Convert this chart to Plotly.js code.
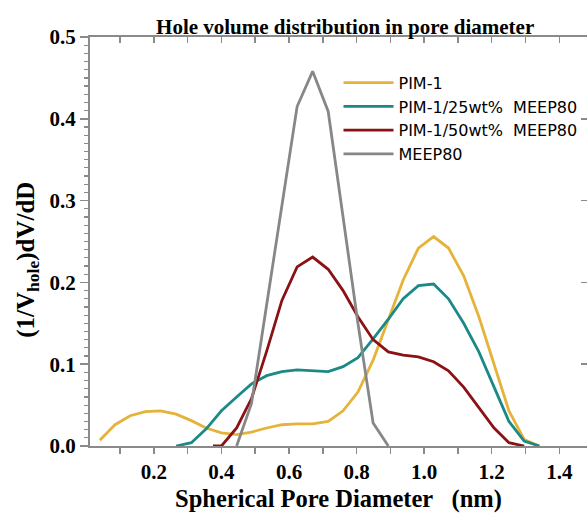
<!DOCTYPE html>
<html>
<head>
<meta charset="utf-8">
<script src="https://cdn.plot.ly/plotly-3.0.1.min.js"></script>
<style>html,body{margin:0;padding:0;background:#fff;overflow:hidden;}</style>
</head>
<body>
<div id="chart" style="width:587px;height:513px;"></div>
<script>
// Series names
const seriesNames = ["PIM-1", "PIM-1/25wt%&nbsp; MEEP80", "PIM-1/50wt%&nbsp; MEEP80", "MEEP80"];

// PIM-1
const pimX = [0.04,0.085,0.13,0.175,0.22,0.266,0.311,0.355,0.40,0.445,0.489,0.534,0.579,0.624,0.670,0.716,0.760,0.804,0.849,0.894,0.938,0.983,1.028,1.072,1.117,1.162,1.207,1.251,1.296,1.341];
const pimY = [0.007,0.026,0.037,0.042,0.043,0.039,0.031,0.022,0.016,0.014,0.017,0.022,0.026,0.027,0.027,0.030,0.043,0.066,0.105,0.155,0.203,0.242,0.256,0.242,0.208,0.158,0.100,0.043,0.008,0.0];

// PIM-1/25wt% MEEP80
const p25X = [0.266,0.311,0.355,0.400,0.445,0.489,0.534,0.579,0.624,0.670,0.716,0.760,0.804,0.849,0.894,0.938,0.983,1.028,1.072,1.117,1.162,1.207,1.251,1.296,1.341];
const p25Y = [0.0,0.004,0.021,0.043,0.060,0.076,0.086,0.091,0.093,0.092,0.091,0.097,0.108,0.131,0.155,0.180,0.196,0.198,0.180,0.150,0.115,0.072,0.030,0.006,0.0];

// PIM-1/50wt% MEEP80
const p50X = [0.375,0.400,0.445,0.489,0.534,0.579,0.624,0.670,0.716,0.760,0.804,0.849,0.894,0.938,0.983,1.028,1.072,1.117,1.162,1.207,1.251,1.296];
const p50Y = [0.0,0.0,0.022,0.058,0.116,0.178,0.219,0.231,0.216,0.190,0.158,0.130,0.115,0.111,0.109,0.103,0.092,0.072,0.047,0.022,0.004,0.0];

// MEEP80
const meepX = [0.445,0.489,0.534,0.579,0.624,0.670,0.716,0.760,0.804,0.849,0.894];
const meepY = [0.0,0.052,0.173,0.294,0.415,0.458,0.409,0.280,0.150,0.028,0.0];

const colors = ["#E5B33A", "#1B8A87", "#8B1214", "#878787"];
const xs = [pimX, p25X, p50X, meepX];
const ys = [pimY, p25Y, p50Y, meepY];

const traces = xs.map((x, i) => ({
  x: x, y: ys[i], name: seriesNames[i], type: "scatter", mode: "lines",
  line: {color: colors[i], width: 2.8}, legendgroup: "g" + i
}));
// helper trace for mirrored top/right axes (no marks)
traces.push({x: [], y: [], xaxis: "x2", yaxis: "y2", showlegend: false, hoverinfo: "skip", type: "scatter", mode: "lines"});

const xr = [0.011, 1.482], yr = [0, 0.5];
const axCol = "#8a8a8a";
const serif = "Liberation Serif, Times New Roman, serif";

const layout = {
  width: 587, height: 513,
  margin: {l: 90, r: 0, t: 37, b: 67},
  paper_bgcolor: "#fff", plot_bgcolor: "#fff",
  title: {text: "<b>Hole volume distribution in pore diameter</b>", font: {family: serif, size: 21, color: "#000"},
          x: 0.588, xref: "container", xanchor: "center", y: 0.948, yref: "container", yanchor: "middle"},
  showlegend: true,
  legend: {x: 0.5, y: 0.93, xanchor: "left", yanchor: "top", bgcolor: "rgba(0,0,0,0)", itemwidth: 50,
           font: {family: "DejaVu Sans", size: 16, color: "#000"}, traceorder: "grouped", tracegroupgap: 0},
  xaxis: {range: xr, showgrid: false, zeroline: false, showline: true, linecolor: axCol, linewidth: 2,
          ticks: "outside", tick0: 0, dtick: 0.2, ticklen: 6, tickwidth: 1.5, tickcolor: axCol,
          minor: {dtick: 0.1, ticks: "outside", ticklen: 6, tickwidth: 1.5, tickcolor: axCol},
          tickformat: ".1f", tickfont: {family: serif, size: 21, color: "#000", weight: "bold"},
          title: {text: "<b>Spherical Pore Diameter&nbsp;&nbsp; (nm)</b>", font: {family: serif, size: 24.5, color: "#000"}, standoff: 14}},
  yaxis: {range: yr, showgrid: false, zeroline: false, showline: true, linecolor: axCol, linewidth: 2,
          ticks: "outside", tick0: 0, dtick: 0.1, ticklen: 8, tickwidth: 1.5, tickcolor: axCol,
          minor: {dtick: 0.01, ticks: "outside", ticklen: 4, tickwidth: 1.2, tickcolor: axCol},
          tickformat: ".1f", tickfont: {family: serif, size: 21, color: "#000", weight: "bold"}},
  xaxis2: {range: xr, overlaying: "x", side: "top", anchor: "y2", showgrid: false, zeroline: false, showline: true,
           linecolor: axCol, linewidth: 2, ticks: "inside", tick0: 0, dtick: 0.1, ticklen: 6, tickwidth: 1.5,
           tickcolor: axCol, showticklabels: false},
  yaxis2: {range: yr, overlaying: "y", side: "right", anchor: "x2", showgrid: false, zeroline: false, showline: true,
           linecolor: axCol, linewidth: 2, ticks: "inside", tick0: 0, dtick: 0.1, ticklen: 6, tickwidth: 1.5,
           tickcolor: axCol, showticklabels: false},
  annotations: [{text: "<b>(1/V<sub>hole</sub>)dV/dD</b>", textangle: -90, xref: "paper", yref: "paper",
                 x: -0.125, y: 0.455, xanchor: "center", yanchor: "middle", showarrow: false,
                 font: {family: serif, size: 25, color: "#000"}}]
};

Plotly.newPlot("chart", traces, layout, {displayModeBar: false, staticPlot: true});
</script>
</body>
</html>
